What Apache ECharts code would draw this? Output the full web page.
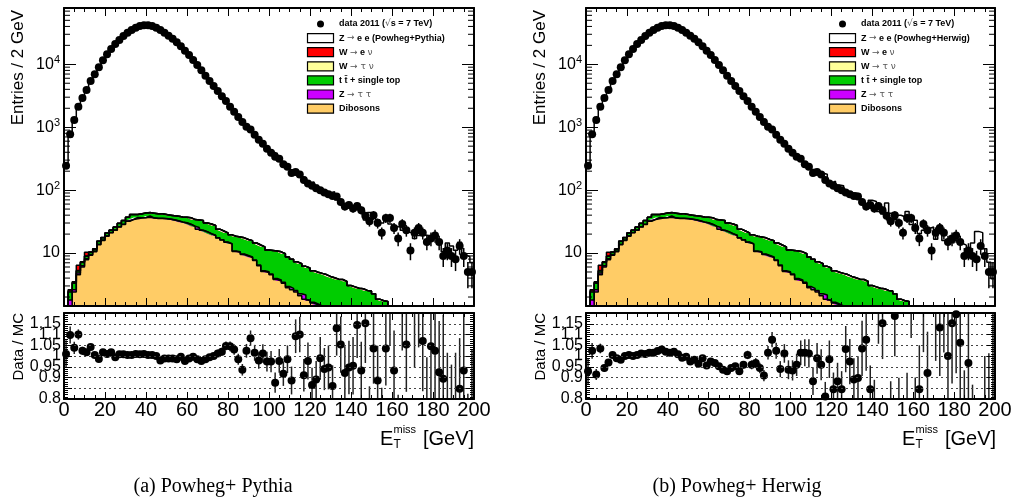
<!DOCTYPE html>
<html><head><meta charset="utf-8">
<script src="https://cdn.jsdelivr.net/npm/echarts@6/dist/echarts.min.js"></script>
<style>html,body{margin:0;padding:0;background:#fff}#c{width:1013px;height:504px}</style>
</head><body><div id="c"></div>
<script>
// ---------------- data ----------------
const BIN_WIDTH = 2; // GeV
const dataCounts = [244,771,1300,2120,2910,3900,5420,6930,8960,11580,14430,17500,21000,24300,28200,31800,35100,38200,40600,41700,41700,40600,38200,35100,31800,28500,25500,22400,19300,16400,14060,11700,9750,8030,6590,5420,4520,3760,3100,2610,2120,1760,1450,1210,1020,920,760,635,548,455,393,340,315,258,236,187,194,178,145,128,117,107,100,92,86,81,79,65,55,58,51,56,48,39,32,40,30,21,36,36,25,17,29,23,11,21,25,21,15,17,19,15,9,11,9,8,13,9,5,5];

const zeePythia = [241,699,1249,1921,2835,3825,5191,6884,9072,11368,14280,17185,21101,24077,27943,31605,34884,37818,40236,41284,41449,40355,38158,35811,32145,28806,25771,22702,19320,16749,14194,11701,9864,8186,6660,5424,4492,3691,3016,2472,2009,1690,1454,1275,980,833,734,635,529,456,392,377,312,271,231,203,171,155,153,125,130,115,96,93,87,90,66,58,55,58,51,46,49,31,41.5,36.7,32,28.2,33.3,27.7,25.3,24.9,22,20.5,20,16.1,18.1,18.5,18.2,15,17.7,15.6,9.8,13.8,12.3,10.5,14.3,8.8,8.2,6.6];

const zeeHerwig = [262,750,1419,2042,3076,4011,5382,6995,9109,11562,14337,17477,20870,23982,27915,31293,34540,37300,39375,40838,41040,39761,37855,35341,31855,29221,25928,23198,19477,17118,14398,12065,10208,8546,7064,5713,4720,4023,3210,2576,2191,1801,1518,1313,989,839,727,662,529,475,410,344,300,244,224,204,189,179,173,124,133,116,113,84,84,86,83,59,47,66,63,43,39,60,40.5,31.7,38,36,44,27,32,19.1,22,23.5,25,15.6,21,15,14.4,13.6,15.1,13.6,12.7,11,13.8,21.5,20.5,11.1,6.6,3.4];

const wenu = [0,0.1,0.1,1.1,0.1,1.3,0.1,0.1,0.1,0.1,0.1,0.1,0.1,0,0,0,0,0,0,0,0,0,0,0,0,0,0,0,0,0,0,0,0,0,0,0,0,0,0,0,0,0,0,0,0,0,0,0,0,0,0,0,0,0,0,0,0,0,0,0,0,0,0,0,0,0,0,0,0,0,0,0,0,0,0,0,0,0,0,0,0,0,0,0,0,0,0,0,0,0,0,0,0,0,0,0,0,0,0,0];

const wtaunu = [0,0.1,0.1,0.1,0.1,0.1,0.1,0.1,0.1,0.1,0.1,0.1,0.1,0.1,0.1,0.1,0.1,0.1,0.1,0.1,0.1,0,0,0,0,0,0,0,0,0,0,0,0,0,0,0,0,0,0,0,0,0,0,0,0,0,0,0,0,0,0,0,0,0,0,0,0,0,0,0,0,0,0,0,0,0,0,0,0,0,0,0,0,0,0,0,0,0,0,0,0,0,0,0,0,0,0,0,0,0,0,0,0,0,0,0,0,0,0,0];

const ttbar = [0.5,0.6,0.7,0.4,0.8,0.8,0.8,0.7,1.5,1.4,2.0,1.7,2.5,3.3,4.1,4.6,6.6,4.1,5.6,6.6,5.1,6.7,6.2,6.2,5.7,5.2,5.2,5.9,6.2,6.7,7.7,7.2,8.0,9.9,8.1,8.6,8.3,6.4,6.2,6.0,5.4,7.7,7.5,7.8,7.3,7.1,6.7,7.0,7.3,6.1,6.3,6.8,6.7,6.3,5.7,5.2,4.7,4.5,4.0,4.0,3.6,3.4,3.3,3.3,3.1,3.0,2.9,2.9,2.7,2.3,2.2,2.1,2.1,2.0,2.0,1.8,1.4,1.3,1.3,0.9,0.8,0.8,0.75,0.7,0.7,0.65,0.6,0.6,0.55,0.55,0.5,0.5,0.45,0.45,0.4,0.4,0.4,0.35,0.35,0.3];

const ztautau = [0.1,0.8,0.2,0.3,0.3,0.3,0.3,0.3,0.3,0.3,0.3,0.3,0.3,0.3,0.3,0.3,0.3,1.8,0.3,0.3,1.8,0.3,0.3,0.3,0.3,0.3,0.3,0.3,0.3,0.3,0.3,0.3,1.5,0.15,0.15,0.15,0.15,0.15,0.15,0.15,0.15,0.15,0.15,0.15,0.15,0.15,0.15,0.15,0.15,0.15,0.15,0.15,0.15,0.15,0.15,0.15,0.15,0.15,0.3,0.05,0.05,0.05,0.05,0.05,0.05,0.05,0.05,0.05,0.05,0.05,0.05,0.05,0.05,0.05,0.05,0.05,0.05,0.05,0.05,0.05,0.05,0.05,0.05,0.05,0.05,0.05,0.05,0.05,0.05,0.05,0.05,0.05,0.05,0.05,0.05,0.05,0.05,0.05,0.05,0.05];

const dibosons = [0.3,1.0,2.4,4.5,6.0,7.8,9.2,10.5,13.5,15.8,18.5,21,23,26,28.5,32,34,35,36,36.5,37,36,35.5,35.5,35,34.5,33.5,32.3,31,30,28.5,26.5,24,22.9,21.7,20.2,19,17.4,16.1,14.8,13.9,10.6,10.3,9.5,9.0,8.5,7.6,6.3,5.1,4.9,4.5,3.8,3.6,3.3,2.8,2.6,2.4,2.1,1.85,1.75,1.6,1.5,1.4,1.2,1.1,1.0,0.9,0.85,0.8,0.7,0.65,0.6,0.55,0.5,0.45,0.4,0.4,0.4,0.35,0.35,0.3,0.3,0.3,0.25,0.25,0.25,0.2,0.2,0.2,0.2,0.15,0.15,0.15,0.15,0.15,0.15,0.15,0.15,0.15,0.15];

const ratioPythia = [1.009,1.098,1.038,1.1,1.024,1.017,1.042,1.005,0.986,1.017,1.009,1.017,0.994,1.008,1.008,1.005,1.005,1.009,1.008,1.009,1.005,1.005,1.0,0.979,0.988,0.988,0.988,0.985,0.997,0.977,0.988,0.997,0.985,0.977,0.985,0.994,1.0,1.012,1.02,1.047,1.045,1.03,0.985,0.936,1.024,1.083,1.015,0.979,1.012,0.974,0.974,0.876,0.977,0.918,0.985,0.886,1.092,1.1,0.91,0.977,0.865,0.891,0.989,0.939,0.947,0.861,1.129,1.053,0.921,0.947,0.955,1.144,0.932,1.152,0.73,1.035,0.886,0.7,1.035,1.26,0.932,0.66,1.26,1.053,0.53,1.21,1.3,1.07,0.79,1.045,1.024,0.924,0.894,0.78,0.72,0.75,0.848,0.932,0.57,0.71];

const ratioHerwig = [0.929,1.024,0.914,1.035,0.944,0.970,1.005,0.989,0.982,1.0,1.005,1.0,1.005,1.012,1.009,1.015,1.015,1.023,1.03,1.02,1.015,1.02,1.008,0.992,0.997,0.974,0.982,0.964,0.989,0.956,0.974,0.967,0.952,0.936,0.929,0.944,0.952,0.929,0.959,1.005,0.959,0.967,0.944,0.909,1.015,1.076,1.024,0.939,1.012,0.936,0.933,0.959,1.015,1.015,1.012,0.883,0.989,0.959,0.812,0.985,0.845,0.883,0.845,1.032,0.974,0.891,0.898,1.035,1.076,0.845,0.78,1.22,1.152,0.61,0.75,1.186,0.76,0.55,0.79,1.3,0.75,0.845,1.25,0.921,0.43,1.25,1.133,1.3,1.0,1.152,1.194,1.062,0.7,0.967,0.65,0.37,0.6,0.75,0.7,1.3];

const logDecades = [1,10,100,1000,10000];
const logMinorMultipliers = [2,3,4,5,6,7,8,9];

// ---------------- layout / style ----------------
const FONT = 'Liberation Sans';
const X_MIN = 0, X_MAX = 200;
const Y_MIN = 1.44, Y_MAX = 78500;
const panels = [
  {ox: 0,   left: 64,  width: 410, zeeName: 'Z \u2192 e e (Powheg+Pythia)', zeeGen: 'Powheg+Pythia', zee: zeePythia, ratio: ratioPythia, caption: '(a) Powheg+ Pythia', cx: 213},
  {ox: 522, left: 586, width: 409, zeeName: 'Z \u2192 e e (Powheg+Herwig)', zeeGen: 'Powheg+Herwig', zee: zeeHerwig, ratio: ratioHerwig, caption: '(b) Powheg+ Herwig', cx: 737}
];
const MAIN_TOP = 8, MAIN_H = 298, RATIO_TOP = 313, RATIO_H = 86;

const logMinorTicks = [];
logDecades.forEach(d => logMinorMultipliers.forEach(m => { const v = d * m; if (v > Y_MIN && v < Y_MAX) logMinorTicks.push(v); }));

// histogram step points, value first so that ECharts stacks on the value (y) dimension
function edgePointsValueFirst(vals) {
  const out = vals.map((v, i) => [v, i * BIN_WIDTH]);
  out.push([vals[vals.length - 1], vals.length * BIN_WIDTH]);
  return out;
}
function centerPoints(vals) { return vals.map((v, i) => [i * BIN_WIDTH + BIN_WIDTH / 2, v]); }

const grids = [], xAxes = [], yAxes = [], series = [];
function frameLine() { return {show: true, onZero: false, lineStyle: {color: '#000', width: 2}}; }

panels.forEach((P, p) => {
  grids.push({left: P.left, top: MAIN_TOP, width: P.width, height: MAIN_H, containLabel: false, outerBoundsMode: 'none'});
  grids.push({left: P.left, top: RATIO_TOP, width: P.width, height: RATIO_H, containLabel: false, outerBoundsMode: 'none'});
  const gm = 2 * p, gr = 2 * p + 1;
  const xBase = {type: 'value', min: X_MIN, max: X_MAX, interval: 20, z: 10, splitLine: {show: false}, axisLine: frameLine()};
  const tickM = {inside: true, length: 8, lineStyle: {color: '#000', width: 1}};
  const minorM = {show: true, splitNumber: 4, length: 4, lineStyle: {color: '#000', width: 1}};
  xAxes.push(Object.assign({}, xBase, {gridIndex: gm, position: 'bottom', axisTick: tickM, minorTick: minorM, axisLabel: {show: false}}));
  xAxes.push(Object.assign({}, xBase, {gridIndex: gm, position: 'top', axisTick: tickM, minorTick: minorM, axisLabel: {show: false}}));
  xAxes.push(Object.assign({}, xBase, {gridIndex: gr, position: 'bottom', axisTick: {inside: true, length: 7, lineStyle: {color: '#000', width: 1}}, minorTick: minorM,
    axisLabel: {show: true, fontSize: 20, fontFamily: FONT, color: '#000', margin: 1, hideOverlap: false, showMinLabel: true, showMaxLabel: true}}));
  xAxes.push(Object.assign({}, xBase, {gridIndex: gr, position: 'top', axisTick: {inside: true, length: 7, lineStyle: {color: '#000', width: 1}}, minorTick: minorM, axisLabel: {show: false}}));

  const yLog = {type: 'log', logBase: 10, min: Y_MIN, max: Y_MAX, z: 10, splitLine: {show: false}, axisLine: frameLine(), axisTick: {inside: true, length: 12, lineStyle: {color: '#000', width: 1}}};
  yAxes.push(Object.assign({}, yLog, {gridIndex: gm, position: 'left', axisLabel: {
    show: true, margin: 4, showMinLabel: false, showMaxLabel: false, hideOverlap: false,
    formatter: v => { const e = Math.log10(v); const r = Math.round(e); if (Math.abs(e - r) > 1e-6) return ''; return r === 1 ? '{b|10}' : '{b|10}{s|' + r + '}'; },
    rich: {b: {fontSize: 16, fontFamily: FONT, color: '#000', lineHeight: 20}, s: {fontSize: 11, fontFamily: FONT, color: '#000', lineHeight: 6, verticalAlign: 'top'}}
  }}));
  yAxes.push(Object.assign({}, yLog, {gridIndex: gm, position: 'right', axisLabel: {show: false}}));
  const yRat = {type: 'value', min: 0.8, max: 1.2, interval: 0.05, z: 10, axisLine: frameLine(),
    axisTick: {inside: true, length: 8, lineStyle: {color: '#000', width: 1}}, minorTick: {show: true, splitNumber: 5, length: 4, lineStyle: {color: '#000', width: 1}}};
  yAxes.push(Object.assign({}, yRat, {gridIndex: gr, position: 'left',
    splitLine: {show: true, lineStyle: {color: '#444', width: 1, type: [2, 3]}},
    axisLabel: {show: true, fontSize: 16, fontFamily: FONT, color: '#000', margin: 3, showMinLabel: true, showMaxLabel: false, hideOverlap: false}}));
  yAxes.push(Object.assign({}, yRat, {gridIndex: gr, position: 'right', splitLine: {show: false}, axisLabel: {show: false}}));

  const xm = 4 * p, xr = 4 * p + 2;
  const stack = [
    ['Dibosons', dibosons, '#ffcc66'],
    ['Z \u2192 \u03c4 \u03c4', ztautau, '#cc00ff'],
    ['t t\u0304 + single top', ttbar, '#00cc00'],
    ['W \u2192 \u03c4 \u03bd', wtaunu, '#ffff99'],
    ['W \u2192 e \u03bd', wenu, '#ff0000'],
    [P.zeeName, P.zee, '#ffffff']
  ];
  stack.forEach(([name, vals, color]) => {
    series.push({type: 'line', name: name, xAxisIndex: xm, yAxisIndex: xm, data: edgePointsValueFirst(vals), encode: {x: 1, y: 0},
      step: 'end', stack: 'mc' + p, symbol: 'none', showSymbol: false, lineStyle: {color: '#000', width: 1.5}, itemStyle: {color: color},
      areaStyle: {color: color, opacity: 1, origin: 'start'}, z: 2, silent: true, animation: false, clip: true});
  });
  series.push({type: 'custom', name: 'data err', xAxisIndex: xm, yAxisIndex: xm, silent: true, z: 4, clip: true,
    data: dataCounts.map((v, i) => [i * BIN_WIDTH + BIN_WIDTH / 2, v, Math.sqrt(v)]), encode: {x: 0, y: 1},
    renderItem: (params, api) => {
      const x = api.value(0), y = api.value(1), e = api.value(2);
      const a = api.coord([x, Math.max(y - e, 1e-3)]), b = api.coord([x, y + e]);
      return {type: 'line', shape: {x1: a[0], y1: a[1], x2: b[0], y2: b[1]}, style: {stroke: '#000', lineWidth: 1.5}};
    }});
  series.push({type: 'scatter', name: 'data 2011', xAxisIndex: xm, yAxisIndex: xm, data: centerPoints(dataCounts),
    symbol: 'circle', symbolSize: 8, itemStyle: {color: '#000', opacity: 1}, z: 5, silent: true, clip: true});
  series.push({type: 'custom', name: 'minor log ticks', xAxisIndex: xm, yAxisIndex: xm, silent: true, z: 11, clip: false,
    data: logMinorTicks.map(v => [X_MIN, v]), encode: {x: 0, y: 1},
    renderItem: (params, api) => {
      const v = api.value(1);
      const a = api.coord([X_MIN, v]), b = api.coord([X_MAX, v]);
      return {type: 'group', children: [
        {type: 'line', shape: {x1: a[0], y1: a[1], x2: a[0] + 6, y2: a[1]}, style: {stroke: '#000', lineWidth: 1}},
        {type: 'line', shape: {x1: b[0] - 6, y1: b[1], x2: b[0], y2: b[1]}, style: {stroke: '#000', lineWidth: 1}}
      ]};
    }});
  series.push({type: 'custom', name: 'ratio err', xAxisIndex: xr, yAxisIndex: xr, silent: true, z: 4, clip: true,
    data: P.ratio.map((r, i) => [i * BIN_WIDTH + BIN_WIDTH / 2, r, r / Math.sqrt(dataCounts[i])]), encode: {x: 0, y: 1},
    renderItem: (params, api) => {
      const x = api.value(0), y = api.value(1), e = api.value(2);
      const a = api.coord([x, y - e]), b = api.coord([x, y + e]);
      return {type: 'line', shape: {x1: a[0], y1: a[1], x2: b[0], y2: b[1]}, style: {stroke: '#222', lineWidth: 1.5}};
    }});
  series.push({type: 'scatter', name: 'Data / MC', xAxisIndex: xr, yAxisIndex: xr, data: centerPoints(P.ratio),
    symbol: 'circle', symbolSize: 8, itemStyle: {color: '#000', opacity: 1}, z: 5, silent: true, clip: true});
});

// ---------------- texts: titles, legends, captions ----------------
const graphics = [];
const legendRows = [24, 38.1, 52.2, 66.3, 80.4, 94.5, 108.6];
const legendColors = [null, '#ffffff', '#ff0000', '#ffff99', '#00cc00', '#cc00ff', '#ffcc66'];
const richLeg = {
  b: {fontSize: 9, fontWeight: 'bold', fontFamily: FONT, fill: '#000', color: '#000'},
  s: {fontSize: 9, fontWeight: 'normal', fontFamily: 'DejaVu Sans', fill: '#555', color: '#555'}
};
panels.forEach((P) => {
  const ox = P.ox;
  const legendTexts = [
    '{b|data 2011 (}{s|\u221a}{b|s = 7 TeV)}',
    '{b|Z }{s|\u2192}{b| e e (' + P.zeeGen + ')}',
    '{b|W }{s|\u2192}{b| e }{s|\u03bd}',
    '{b|W }{s|\u2192 \u03c4 \u03bd}',
    '{b|t t\u0304 + single top}',
    '{b|Z }{s|\u2192 \u03c4 \u03c4}',
    '{b|Dibosons}'
  ];
  legendRows.forEach((cy, k) => {
    if (k === 0) {
      graphics.push({type: 'circle', z: 100, shape: {cx: ox + 320.5, cy: cy, r: 3.5}, style: {fill: '#000'}});
    } else {
      graphics.push({type: 'rect', z: 100, shape: {x: ox + 307.5, y: cy - 4.5, width: 26, height: 9}, style: {fill: legendColors[k], stroke: '#000', lineWidth: 1.2}});
    }
    graphics.push({type: 'text', z: 100, x: ox + 339, y: cy, style: {text: legendTexts[k], rich: richLeg, fontSize: 9, fontFamily: FONT, verticalAlign: 'middle', align: 'left'}});
  });
  graphics.push({type: 'text', z: 100, x: ox + 18.5, y: 10, rotation: Math.PI / 2, style: {text: 'Entries / 2 GeV', fontSize: 17, fontFamily: FONT, fill: '#000', align: 'right', verticalAlign: 'middle'}});
  graphics.push({type: 'text', z: 100, x: ox + 18.5, y: 313, rotation: Math.PI / 2, style: {text: 'Data / MC', fontSize: 15, fontFamily: FONT, fill: '#000', align: 'right', verticalAlign: 'middle'}});
  graphics.push({type: 'text', z: 100, x: ox + 380, y: 439, style: {text: 'E', fontSize: 20, fontFamily: FONT, fill: '#000', align: 'left', verticalAlign: 'middle'}});
  graphics.push({type: 'text', z: 100, x: ox + 393.5, y: 429.5, style: {text: 'miss', fontSize: 11, fontFamily: FONT, fill: '#000', align: 'left', verticalAlign: 'middle'}});
  graphics.push({type: 'text', z: 100, x: ox + 393.5, y: 445, style: {text: 'T', fontSize: 12, fontFamily: FONT, fill: '#000', align: 'left', verticalAlign: 'middle'}});
  graphics.push({type: 'text', z: 100, x: ox + 423, y: 439, style: {text: '[GeV]', fontSize: 20, fontFamily: FONT, fill: '#000', align: 'left', verticalAlign: 'middle'}});
  graphics.push({type: 'text', z: 100, x: P.cx, y: 487, style: {text: P.caption, fontSize: 20, fontFamily: 'Liberation Serif', fill: '#000', align: 'center', verticalAlign: 'middle'}});
});

const chart = echarts.init(document.getElementById('c'), null, {renderer: 'canvas'});
chart.setOption({
  animation: false,
  backgroundColor: '#fff',
  textStyle: {fontFamily: FONT},
  grid: grids,
  xAxis: xAxes,
  yAxis: yAxes,
  series: series,
  graphic: {elements: graphics}
});
</script>
</body></html>
